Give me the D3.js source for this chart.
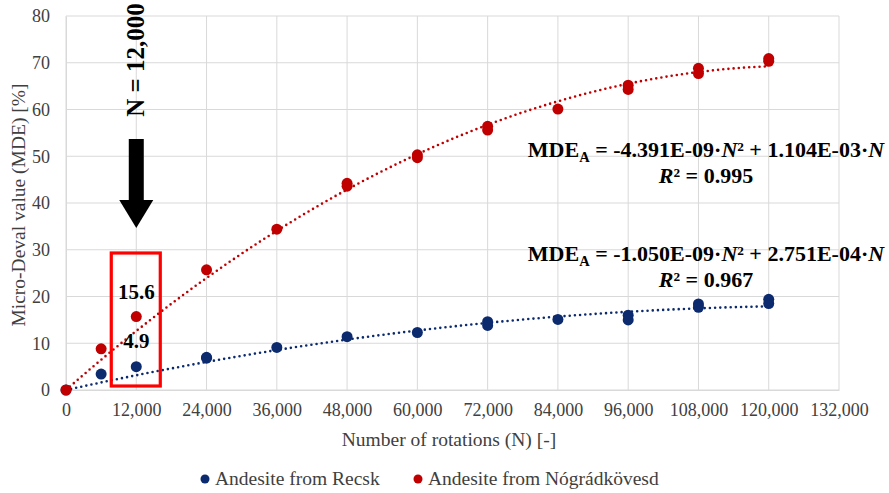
<!DOCTYPE html>
<html>
<head>
<meta charset="utf-8">
<script src="https://cdn.jsdelivr.net/npm/d3@7"></script>
<style>
  body { margin: 0; background: #fff; }
</style>
</head>
<body>
<div id="chart"></div>
<script>
// measured points (duplicates = repeated specimens)
var recskN   = [0, 6000, 12000, 24000, 24000, 36000, 48000, 60000, 72000, 72000, 84000, 96000, 96000, 108000, 108000, 120000, 120000];
var recskMDE = [0, 3.4, 5.0, 7.0, 6.8, 9.1, 11.4, 12.3, 14.6, 13.8, 15.1, 16.0, 15.0, 18.4, 17.7, 19.4, 18.5];
var nograN   = [0, 6000, 12000, 24000, 36000, 48000, 48000, 60000, 60000, 72000, 72000, 84000, 96000, 96000, 108000, 108000, 120000, 120000];
var nograMDE = [0, 8.8, 15.7, 25.7, 34.4, 44.2, 43.6, 50.3, 49.7, 56.4, 55.6, 60.1, 65.2, 64.3, 68.8, 67.7, 70.9, 70.3];

// trendline coefficients  MDE = a*N^2 + b*N
var recskFit = [-1.050e-9, 2.751e-4];
var nograFit = [-4.391e-9, 1.104e-3];

var xTicks = d3.range(0, 132001, 12000);
var yTicks = d3.range(0, 81, 10);

var legendLabels = ["Andesite from Recsk", "Andesite from Nógrádkövesd"];
var colors = ["#0c2a6e", "#c00000"];

var FONT = "'Times New Roman', 'Liberation Serif', Tinos, 'DejaVu Serif', serif";
var W = 889, H = 493;

var svg = d3.select("#chart").append("svg")
    .attr("width", W)
    .attr("height", H)
    .attr("font-family", FONT);

var x = d3.scaleLinear().domain([0, 132000]).range([66, 839]);
var y = d3.scaleLinear().domain([0, 80]).range([390, 16]);

// grid
svg.append("g").selectAll("line").data(yTicks).enter().append("line")
    .attr("x1", x(0)).attr("x2", x(132000))
    .attr("y1", function(d){ return y(d); }).attr("y2", function(d){ return y(d); })
    .attr("stroke", "#d9d9d9").attr("stroke-width", 1);
svg.append("g").selectAll("line").data(xTicks).enter().append("line")
    .attr("y1", y(0)).attr("y2", y(80))
    .attr("x1", function(d){ return x(d); }).attr("x2", function(d){ return x(d); })
    .attr("stroke", "#d9d9d9").attr("stroke-width", 1);

// axes (labels only, lines come from grid)
var xAxis = svg.append("g")
    .attr("transform", "translate(0," + y(0) + ")")
    .call(d3.axisBottom(x).tickValues(xTicks).tickSize(0).tickPadding(13).tickFormat(d3.format(",")));
var yAxis = svg.append("g")
    .attr("transform", "translate(" + x(0) + ",0)")
    .call(d3.axisLeft(y).tickValues(yTicks).tickSize(0).tickPadding(16));
[xAxis, yAxis].forEach(function(a){
  a.attr("font-family", FONT).attr("font-size", 18);
  a.select(".domain").attr("stroke", "#d9d9d9");
  a.selectAll("text").attr("fill", "#404040");
});

// axis titles
svg.append("text")
    .attr("x", 449).attr("y", 446)
    .attr("text-anchor", "middle")
    .attr("font-size", 19.5).attr("fill", "#404040")
    .text("Number of rotations (N) [-]");
svg.append("text")
    .attr("transform", "translate(25," + 205 + ") rotate(-90)")
    .attr("text-anchor", "middle")
    .attr("font-size", 19.5).attr("fill", "#404040")
    .text("Micro-Deval value (MDE) [%]");

// trendlines
function fitLine(c){
  var pts = d3.range(0, 120001, 1000).map(function(n){ return [n, c[0]*n*n + c[1]*n]; });
  return d3.line().x(function(d){ return x(d[0]); }).y(function(d){ return y(d[1]); })(pts);
}
[recskFit, nograFit].forEach(function(c, i){
  svg.append("path")
    .attr("d", fitLine(c))
    .attr("fill", "none")
    .attr("stroke", colors[i])
    .attr("stroke-width", 2.6)
    .attr("stroke-linecap", "round")
    .attr("stroke-dasharray", "0 5.2");
});

// points
var series = [[recskN, recskMDE], [nograN, nograMDE]];
series.forEach(function(s, i){
  svg.append("g").selectAll("circle").data(s[0]).enter().append("circle")
    .attr("cx", function(d){ return x(d); })
    .attr("cy", function(d, j){ return y(s[1][j]); })
    .attr("r", 5.5)
    .attr("fill", colors[i]);
});

// highlight box at N = 12,000
svg.append("rect")
    .attr("x", x(12000) - 25).attr("y", 253)
    .attr("width", 49).attr("height", 133)
    .attr("fill", "none").attr("stroke", "#ff0000").attr("stroke-width", 3.2);

svg.append("text")
    .attr("x", x(12000)).attr("y", 299)
    .attr("text-anchor", "middle")
    .attr("font-size", 21).attr("font-weight", "bold")
    .text("15.6");
svg.append("text")
    .attr("x", x(12000)).attr("y", 348)
    .attr("text-anchor", "middle")
    .attr("font-size", 21).attr("font-weight", "bold")
    .text("4.9");

// arrow
var ax = x(12000);
svg.append("rect")
    .attr("x", ax - 7.5).attr("y", 139)
    .attr("width", 15).attr("height", 63)
    .attr("fill", "#000");
svg.append("path")
    .attr("d", "M" + (ax - 17) + ",200 L" + (ax + 17) + ",200 L" + ax + ",228 Z")
    .attr("fill", "#000");
svg.append("text")
    .attr("transform", "translate(" + (ax + 8) + ",60) rotate(-90)")
    .attr("text-anchor", "middle")
    .attr("font-size", 25).attr("font-weight", "bold")
    .text("N = 12,000");

// equations
function equation(yy, a, b, r2){
  var t = svg.append("text")
    .attr("x", 706).attr("y", yy)
    .attr("text-anchor", "middle")
    .attr("font-size", 22).attr("font-weight", "bold");
  t.append("tspan").text("MDE");
  t.append("tspan").attr("dy", 5).attr("font-size", 14.5).text("A");
  t.append("tspan").attr("dy", -5).text(" = " + a + "·");
  t.append("tspan").attr("font-style", "italic").text("N");
  t.append("tspan").text("² + " + b + "·");
  t.append("tspan").attr("font-style", "italic").text("N");
  var r = svg.append("text")
    .attr("x", 706).attr("y", yy + 26)
    .attr("text-anchor", "middle")
    .attr("font-size", 22).attr("font-weight", "bold");
  r.append("tspan").attr("font-style", "italic").text("R");
  r.append("tspan").text("² = " + r2);
}
equation(157, "-4.391E-09", "1.104E-03", "0.995");
equation(261, "-1.050E-09", "2.751E-04", "0.967");

// legend
var legendX = [205, 418];
legendLabels.forEach(function(l, i){
  svg.append("circle")
    .attr("cx", legendX[i]).attr("cy", 479)
    .attr("r", 4.5).attr("fill", colors[i]);
  svg.append("text")
    .attr("x", legendX[i] + 10).attr("y", 485)
    .attr("font-size", 19.5).attr("fill", "#404040")
    .text(l);
});
</script>
</body>
</html>
